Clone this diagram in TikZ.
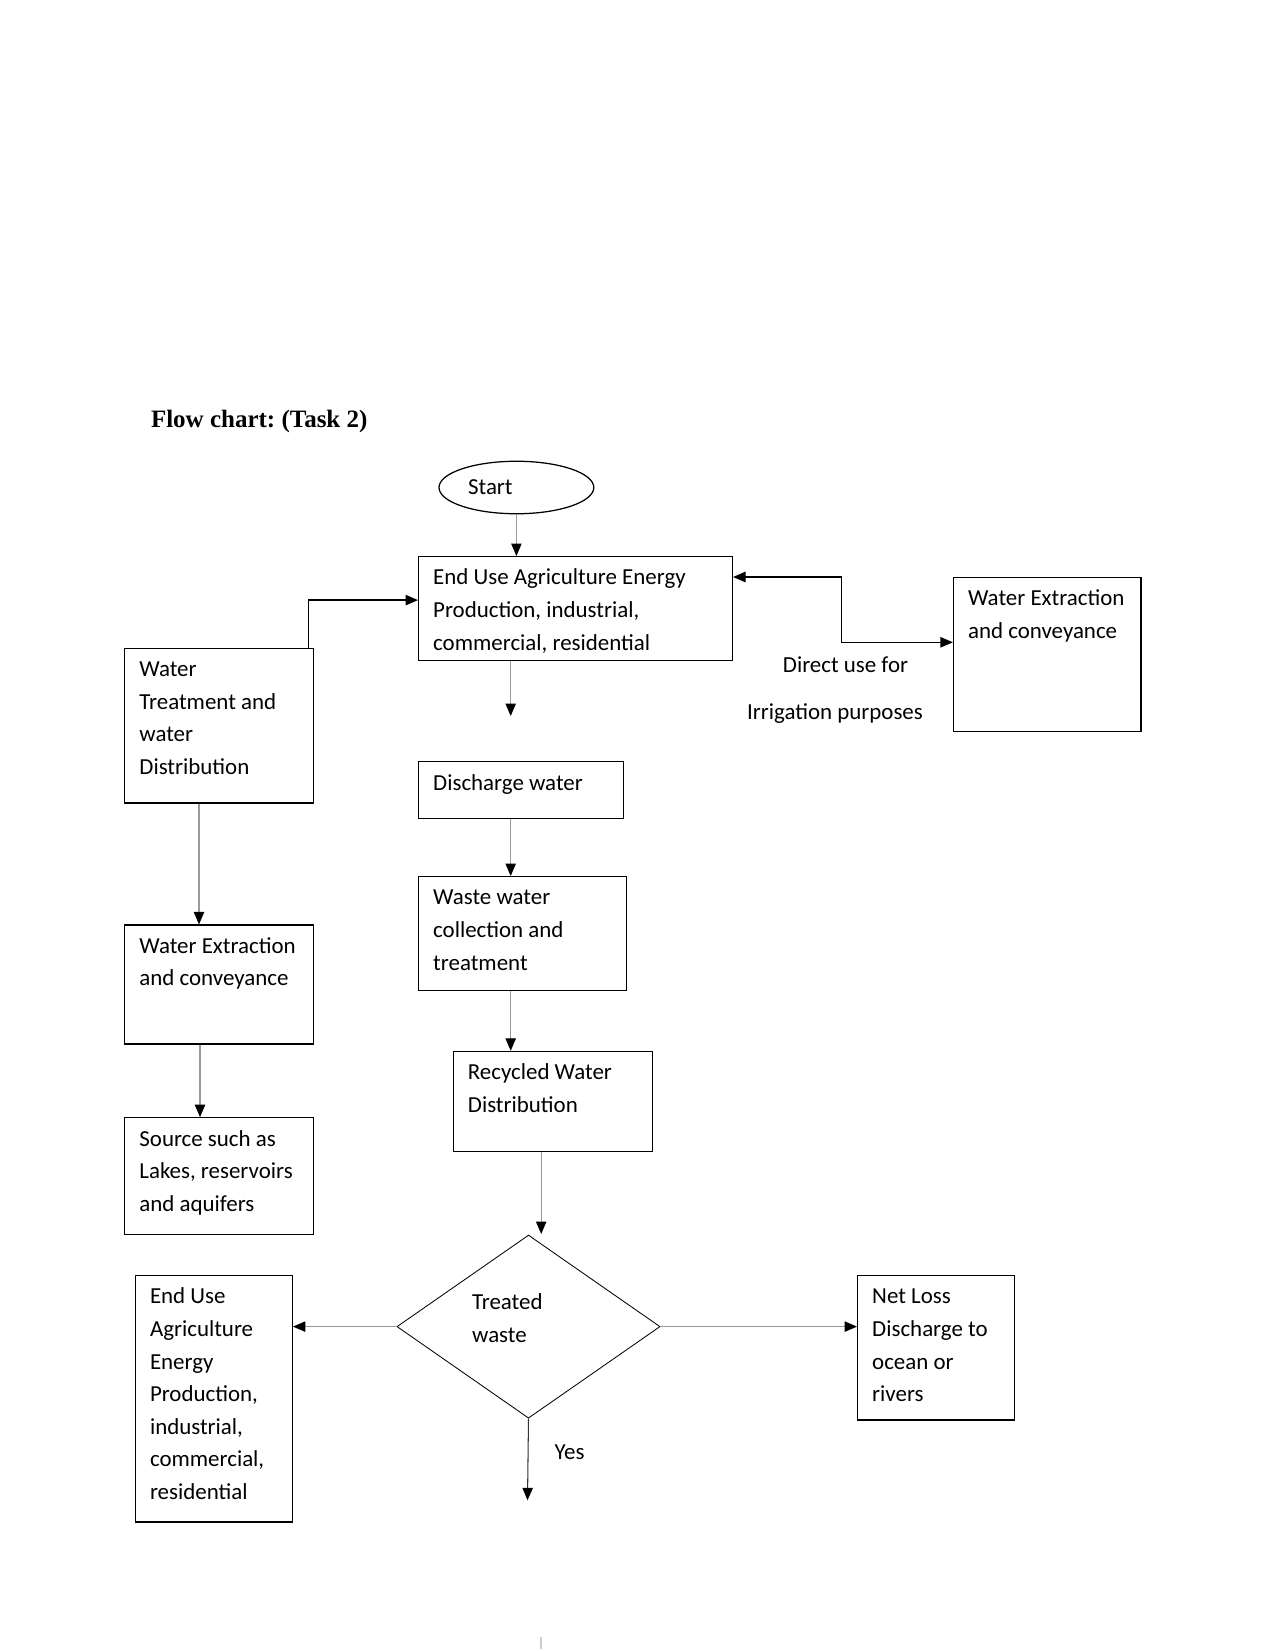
\documentclass[tikz,border=0pt]{standalone}
\usepackage{fontspec}
\setmainfont{Carlito}
\newfontfamily\titlefont{Liberation Serif}
\usetikzlibrary{positioning, shapes.geometric, arrows.meta, calc}
\definecolor{ink}{HTML}{000000}
\definecolor{wire}{HTML}{9a9a9a}
\frenchspacing

\begin{document}
\begin{tikzpicture}[x=0.48pt, y=-0.48pt, font=\fontsize{11}{15.65}\selectfont,
  box/.style={draw=ink, line width=0.6pt, anchor=north west, align=flush left,
              inner xsep=7pt, inner ysep=0pt, text height=13.6pt},
  conn/.style={draw=wire, line width=0.5pt, -{Triangle[color=ink, length=6pt, width=5pt]}},
  elbow/.style={draw=ink, line width=0.6pt, -{Triangle[length=6pt, width=5pt]}},
  lbl/.style={inner sep=0pt}]
  \useasboundingbox (0,0) rectangle (1275,1651);

  % Title
  \node[anchor=west, inner sep=0pt, font=\titlefont\bfseries\fontsize{12}{14}\selectfont] (title) at (150.6,421) {Flow chart: (Task 2)};

  % Top part
  \node[draw=ink, line width=0.6pt, ellipse, minimum width=74.3pt, minimum height=25.2pt, inner sep=0pt] (start) at (516.4,487.5) {Start\hspace*{25pt}};
  \node[box, text width=136.6pt, text depth=36.4pt] (enduse) at (418,556) {End Use Agriculture Energy\\Production, industrial,\\commercial, residential};
  \node[box, text width=76pt, text depth=60.2pt] (rightwx) at (952.9,577) {\mbox{Water Extraction}\\and conveyance};
  \node[lbl] (direct) at (845.5,664.4) {Direct use for};
  \node[lbl] (irrig) at (835,713.8) {Irrigation purposes};

  % Middle column
  \node[box, text width=84.5pt, text depth=13.7pt] (discharge) at (418,761.2) {Discharge water};
  \node[box, text width=85.6pt, text depth=41pt] (waste) at (418,876) {Waste water\\collection and\\treatment};
  \node[box, text width=81.5pt, text depth=34.4pt] (recycled) at (452.7,1050.8) {Recycled Water\\Distribution};

  % Left column
  \node[box, text width=76.5pt, text depth=60.7pt] (treat) at (124.2,647.5) {Water\\\mbox{Treatment and}\\water\\Distribution};
  \node[box, text width=76.5pt, text depth=43.5pt] (leftwx) at (124.2,924.4) {\mbox{Water Extraction}\\and conveyance};
  \node[box, text width=76.5pt, text depth=42.5pt] (source) at (124.2,1117.1) {Source such as\\\mbox{Lakes, reservoirs}\\and aquifers};

  % Decision
  \node[draw=ink, line width=0.4pt, diamond, minimum width=126.3pt, minimum height=87.9pt, inner sep=0pt] (dia) at (528.5,1326.6) {};
  \node[anchor=base west, align=left, inner sep=0pt] (tw) at (471.7,1342) {Treated\\waste};
  \node[box, text width=61.3pt, text depth=104.7pt] (leftend) at (134.8,1275) {End Use\\Agriculture\\Energy\\Production,\\industrial,\\commercial,\\residential};
  \node[box, text width=61.3pt, text depth=55.7pt] (netloss) at (857,1275) {Net Loss\\\mbox{Discharge to}\\ocean or\\rivers};
  \node[lbl] (yes) at (569.6,1452) {Yes};

  % Helper points
  \coordinate (col) at (510.7,716);
  \coordinate (rcol) at (541.2,1234);
  \coordinate (lcol) at (199,0);
  \coordinate (j1) at (308.5,600.1);
  \coordinate (j2) at (841.3,577);
  \coordinate (j3) at (841.3,642.3);
  \coordinate (yesend) at (527.5,1500.3);

  % Connectors
  \draw[conn] (start.south) -- (start.south |- enduse.north);
  \draw[conn] (col |- enduse.south) -- (col);
  \draw[conn] (col |- discharge.south) -- (col |- waste.north);
  \draw[conn] (col |- waste.south) -- (col |- recycled.north);
  \draw[conn] (rcol |- recycled.south) -- (rcol);
  \draw[conn] (lcol |- treat.south) -- (lcol |- leftwx.north);
  \draw[conn] ($(lcol |- leftwx.south)+(1,0)$) -- ($(lcol |- source.north)+(1,0)$);
  \draw[elbow] (j1 |- treat.north) -- (j1) -- (j1 -| enduse.west);
  \draw[elbow, {Triangle[length=6pt, width=5pt]}-{Triangle[length=6pt, width=5pt]}] (j2 -| enduse.east) -- (j2) -- (j3) -- (j3 -| rightwx.west);
  \draw[conn] (dia.west) -- (dia.west -| leftend.east);
  \draw[conn] (dia.east) -- (dia.east -| netloss.west);
  \draw[conn, draw=ink!80] (dia.south) -- (yesend);
  \draw[wire!50, line width=0.5pt] (541,1637) -- (541,1649);
\end{tikzpicture}
\end{document}
